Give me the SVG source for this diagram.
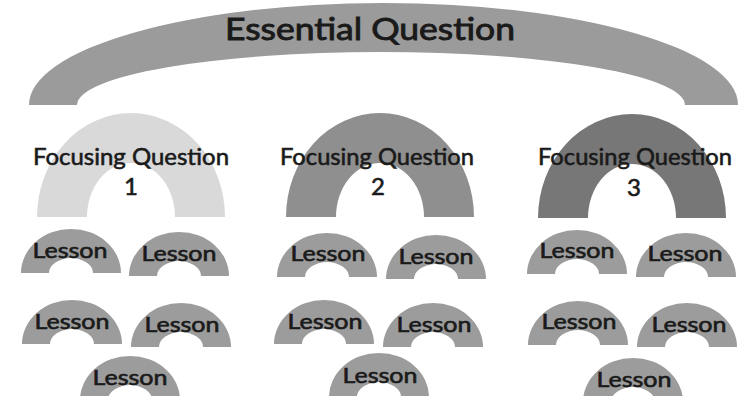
<svg xmlns="http://www.w3.org/2000/svg" xmlns:xlink="http://www.w3.org/1999/xlink" width="750" height="396" viewBox="0 0 750 396">
<style>
text{font-family:Lato,"Open Sans","Liberation Sans",sans-serif;fill:#1a1a1a;stroke:#1a1a1a;text-anchor:middle}
.eq{font-size:31px;stroke-width:0.9px}
.fq{font-size:24px;stroke-width:0.6px}
.ls{font-size:21px;stroke-width:0.6px}
.lesson{fill:#9c9c9c}
</style>
<defs>
<path id="lessonArc" d="M-50,0 A50,44 0 0 1 50,0 L22,0 A22,15 0 0 0 -22,0 Z"/>
<path id="fqArc" d="M-94,0 A94,104 0 0 1 94,0 L44,0 A44,54 0 0 0 -44,0 Z"/>
</defs>
<rect width="750" height="396" fill="#ffffff"/>
<g id="essential">
<path d="M29,105 A354.5,102 0 0 1 738,105 L685,105 A304,53 0 0 0 77,105 Z" fill="#9b9b9b"/>
<text class="eq" x="370" y="40" textLength="290" lengthAdjust="spacingAndGlyphs">Essential Question</text>
</g>
<g id="fq1">
<use xlink:href="#fqArc" transform="translate(131,217)" fill="#d9d9d9"/>
<text class="fq" x="131" y="165" textLength="196" lengthAdjust="spacingAndGlyphs">Focusing Question</text>
<text class="fq" x="131" y="195">1</text>
</g>
<g id="fq2">
<use xlink:href="#fqArc" transform="translate(380,217)" fill="#8f8f8f"/>
<text class="fq" x="377" y="165" textLength="194" lengthAdjust="spacingAndGlyphs">Focusing Question</text>
<text class="fq" x="378" y="195">2</text>
</g>
<g id="fq3">
<use xlink:href="#fqArc" transform="translate(632,218)" fill="#777777"/>
<text class="fq" x="635" y="165" textLength="194" lengthAdjust="spacingAndGlyphs">Focusing Question</text>
<text class="fq" x="634" y="196">3</text>
</g>
<g id="l1a"><use xlink:href="#lessonArc" class="lesson" transform="translate(71,273)"/><text class="ls" x="70" y="258" textLength="75" lengthAdjust="spacingAndGlyphs">Lesson</text></g>
<g id="l1b"><use xlink:href="#lessonArc" class="lesson" transform="translate(179,276)"/><text class="ls" x="179" y="261" textLength="75" lengthAdjust="spacingAndGlyphs">Lesson</text></g>
<g id="l1c"><use xlink:href="#lessonArc" class="lesson" transform="translate(72,344)"/><text class="ls" x="72" y="329" textLength="75" lengthAdjust="spacingAndGlyphs">Lesson</text></g>
<g id="l1d"><use xlink:href="#lessonArc" class="lesson" transform="translate(181,347)"/><text class="ls" x="182" y="332" textLength="75" lengthAdjust="spacingAndGlyphs">Lesson</text></g>
<g id="l1e"><use xlink:href="#lessonArc" class="lesson" transform="translate(130,400)"/><text class="ls" x="130" y="385" textLength="75" lengthAdjust="spacingAndGlyphs">Lesson</text></g>
<g id="l2a"><use xlink:href="#lessonArc" class="lesson" transform="translate(327,277)"/><text class="ls" x="328" y="261" textLength="75" lengthAdjust="spacingAndGlyphs">Lesson</text></g>
<g id="l2b"><use xlink:href="#lessonArc" class="lesson" transform="translate(436,279)"/><text class="ls" x="436" y="264" textLength="75" lengthAdjust="spacingAndGlyphs">Lesson</text></g>
<g id="l2c"><use xlink:href="#lessonArc" class="lesson" transform="translate(324,344)"/><text class="ls" x="325" y="329" textLength="75" lengthAdjust="spacingAndGlyphs">Lesson</text></g>
<g id="l2d"><use xlink:href="#lessonArc" class="lesson" transform="translate(433,347)"/><text class="ls" x="434" y="332" textLength="75" lengthAdjust="spacingAndGlyphs">Lesson</text></g>
<g id="l2e"><use xlink:href="#lessonArc" class="lesson" transform="translate(379,397)"/><text class="ls" x="380" y="383" textLength="75" lengthAdjust="spacingAndGlyphs">Lesson</text></g>
<g id="l3a"><use xlink:href="#lessonArc" class="lesson" transform="translate(577,274)"/><text class="ls" x="577" y="258" textLength="75" lengthAdjust="spacingAndGlyphs">Lesson</text></g>
<g id="l3b"><use xlink:href="#lessonArc" class="lesson" transform="translate(686,277)"/><text class="ls" x="685" y="261" textLength="75" lengthAdjust="spacingAndGlyphs">Lesson</text></g>
<g id="l3c"><use xlink:href="#lessonArc" class="lesson" transform="translate(578,345)"/><text class="ls" x="579" y="329" textLength="75" lengthAdjust="spacingAndGlyphs">Lesson</text></g>
<g id="l3d"><use xlink:href="#lessonArc" class="lesson" transform="translate(687,347)"/><text class="ls" x="689" y="332" textLength="75" lengthAdjust="spacingAndGlyphs">Lesson</text></g>
<g id="l3e"><use xlink:href="#lessonArc" class="lesson" transform="translate(633,402)"/><text class="ls" x="634" y="387" textLength="75" lengthAdjust="spacingAndGlyphs">Lesson</text></g>
</svg>
